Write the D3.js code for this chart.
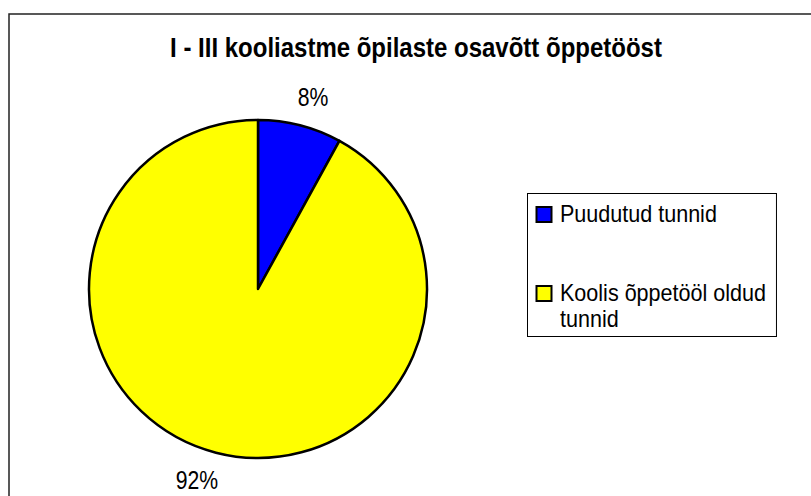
<!DOCTYPE html>
<html>
<head>
<meta charset="utf-8">
<script src="https://cdn.jsdelivr.net/npm/d3@7"></script>
<style>
  body { margin: 0; background: #fff; }
  svg { display: block; }
  text { font-family: "Liberation Sans", Arial, sans-serif; fill: #000; }
</style>
</head>
<body>
<svg id="chart" width="811" height="496"></svg>
<script>
const title = 'I - III kooliastme õpilaste osavõtt õppetööst';
const categories = ['Puudutud tunnid', 'Koolis õppetööl oldud tunnid'];
const values = [8, 92];
const labels = ['8%', '92%'];
const colors = ['#0000ff', '#ffff00'];

const svg = d3.select('#chart');

// the source uses a narrow face; squeeze Liberation Sans horizontally instead
function narrowText(parent, x, y, str, size, opts = {}) {
  const g = parent.append('g').attr('transform', `translate(${x},${y})`);
  const t = g.append('text')
    .attr('text-anchor', opts.anchor || 'start')
    .style('font-size', size + 'px')
    .style('font-weight', opts.weight || 'normal')
    .text(str);
  let f = opts.factor || 0.82;
  if (opts.width) f = opts.width / t.node().getComputedTextLength();
  g.attr('transform', `translate(${x},${y}) scale(${f},1)`);
  return { g, t, f };
}

// outer chart border (right and bottom run off the page)
svg.append('rect')
  .attr('x', 9).attr('y', 14)
  .attr('width', 830).attr('height', 520)
  .attr('fill', '#fff')
  .attr('stroke', '#222')
  .attr('stroke-width', 1.5);

narrowText(svg, 416, 57, title, 27.5, { anchor: 'middle', weight: 'bold', width: 492 });

const CX = 258, CY = 289, R = 169;

const pie = d3.pie().sort(null).value(d => d);
const arcs = pie(values);
const arc = d3.arc().innerRadius(0).outerRadius(R);

const g = svg.append('g').attr('transform', `translate(${CX},${CY})`);

g.selectAll('path.slice')
  .data(arcs)
  .enter()
  .append('path')
  .attr('class', 'slice')
  .attr('d', arc)
  .attr('fill', (d, i) => colors[i])
  .attr('stroke', '#000')
  .attr('stroke-width', 2.5)
  .attr('stroke-linejoin', 'round');

// percentage labels just outside the rim
const labelArc = d3.arc().innerRadius(R + 28).outerRadius(R + 28);
arcs.forEach((d, i) => {
  const [lx] = labelArc.centroid(d);
  // the big slice's label sits lower-left of the rim, as in the source
  const px = i === 1 ? CX - 61 : CX + lx + 6;
  const py = i === 1 ? 489 : 106;
  narrowText(svg, px, py, labels[i], 26.5, { anchor: 'middle', factor: 0.8 });
});

// legend
const legend = svg.append('g');
const lines = [['Puudutud tunnid'], ['Koolis õppetööl oldud', 'tunnid']];
const baseY = [222, 301];
const LX = 527, LY = 193, LH = 143;

const box = legend.append('rect')
  .attr('x', LX + 0.5).attr('y', LY + 0.5)
  .attr('height', LH)
  .attr('fill', '#fff')
  .attr('stroke', '#000')
  .attr('stroke-width', 1);

let maxRight = 0;
let fac = 0.9;
categories.forEach((c, i) => {
  legend.append('rect')
    .attr('x', LX + 9.5).attr('y', baseY[i] - 15)
    .attr('width', 15).attr('height', 15)
    .attr('fill', colors[i])
    .attr('stroke', '#000')
    .attr('stroke-width', 2);
  lines[i].forEach((ln, k) => {
    const o = (i === 0 && k === 0)
      ? narrowText(legend, LX + 33, baseY[i], ln, 23.5, { width: 157 })
      : narrowText(legend, LX + 33, baseY[i] + k * 26, ln, 23.5, { factor: fac });
    if (i === 0) fac = o.f;
    maxRight = Math.max(maxRight, LX + 33 + o.t.node().getComputedTextLength() * o.f);
  });
});
box.attr('width', maxRight + 10 - LX);
</script>
</body>
</html>
